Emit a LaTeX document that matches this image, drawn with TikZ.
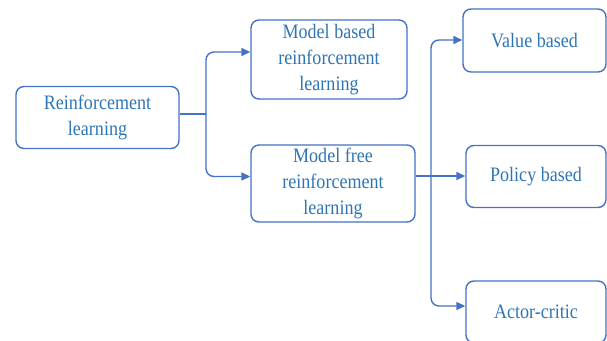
\documentclass[tikz,border=0pt]{standalone}
\usepackage{fontspec}
\setmainfont[FakeStretch=0.88]{Liberation Serif}
\usetikzlibrary{arrows.meta}
\definecolor{linec}{HTML}{4472C4}
\definecolor{textc}{HTML}{2E75B6}
\tikzset{
  box/.style={draw=linec, line width=1.4pt, rounded corners=8pt, rectangle,
    text=textc, align=center, inner sep=0pt,
    font=\fontsize{20.5pt}{26pt}\selectfont},
  conn/.style={draw=linec, line width=1.4pt, rounded corners=8pt},
  arr/.style={conn, -{Triangle[length=9pt,width=8pt]}}
}
\begin{document}
\begin{tikzpicture}[x=1pt,y=-1pt]
\useasboundingbox (0,0) rectangle (607,340);
\node[box, minimum width=163pt, minimum height=62pt] (rl) at (97.5,117.5) {Reinforcement\\learning};
\node[box, minimum width=156pt, minimum height=79pt] (mb) at (329,59.5) {Model based\\reinforcement\\learning};
\node[box, minimum width=164pt, minimum height=77pt] (mf) at (333,183.5) {Model free\\reinforcement\\learning};
\node[box, minimum width=143pt, minimum height=63pt] (vb) at (534.5,40.5) {Value based};
\node[box, minimum width=140pt, minimum height=62pt] (pb) at (536,176.5) {Policy based};
\node[box, minimum width=140pt, minimum height=62pt] (ac) at (536,312) {Actor-critic};
\coordinate (b1) at (206,114);
\coordinate (b2) at (431,176);
\draw[conn] (rl.east |- b1) -- (b1);
\draw[arr] (b1) |- ([yshift=7.5pt]mb.west);
\draw[arr] (b1) |- ([yshift=7pt]mf.west);
\draw[arr] (mf.east |- b2) -- (pb.west |- b2);
\draw[arr] (b2) |- ([yshift=0.5pt]vb.west);
\draw[arr] (b2) |- ([yshift=6pt]ac.west);
\end{tikzpicture}
\end{document}
